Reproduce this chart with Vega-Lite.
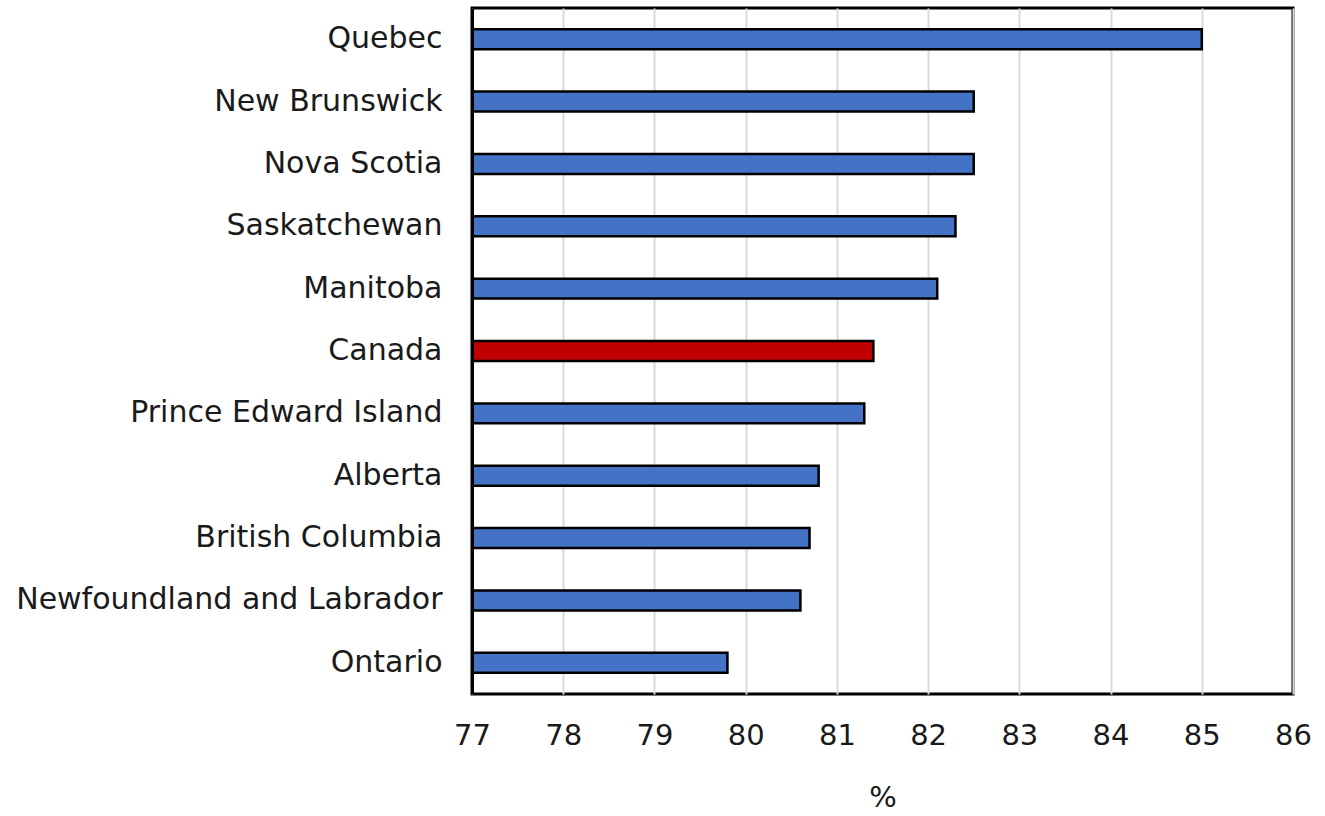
{
  "$schema": "https://vega.github.io/schema/vega-lite/v6.json",
  "autosize": {"type": "none"},
  "padding": {"left": 472, "top": 8, "right": 32, "bottom": 122},
  "width": 821,
  "height": 686,
  "background": "white",
  "config": {
    "view": {"stroke": "black", "strokeWidth": 3},
    "font": "DejaVu Sans"
  },
  "data": {
    "values": [
      {"region": "Quebec", "value": 85.0, "type": "province"},
      {"region": "New Brunswick", "value": 82.5, "type": "province"},
      {"region": "Nova Scotia", "value": 82.5, "type": "province"},
      {"region": "Saskatchewan", "value": 82.3, "type": "province"},
      {"region": "Manitoba", "value": 82.1, "type": "province"},
      {"region": "Canada", "value": 81.4, "type": "national"},
      {"region": "Prince Edward Island", "value": 81.3, "type": "province"},
      {"region": "Alberta", "value": 80.8, "type": "province"},
      {"region": "British Columbia", "value": 80.7, "type": "province"},
      {"region": "Newfoundland and Labrador", "value": 80.6, "type": "province"},
      {"region": "Ontario", "value": 79.8, "type": "province"}
    ]
  },
  "mark": {"type": "bar", "stroke": "black", "strokeWidth": 2.5, "clip": true},
  "encoding": {
    "y": {
      "field": "region",
      "type": "nominal",
      "sort": null,
      "scale": {"paddingInner": 0.68, "paddingOuter": 0.34},
      "axis": {
        "title": null,
        "ticks": false,
        "domain": true,
        "domainColor": "black",
        "domainWidth": 3,
        "zindex": 1,
        "labelFontSize": 30,
        "labelColor": "#1a1a1a",
        "labelPadding": 30,
        "labelLimit": 600
      }
    },
    "x": {
      "field": "value",
      "type": "quantitative",
      "scale": {"domain": [77, 86], "zero": false, "nice": false},
      "axis": {
        "title": "%",
        "titleFontSize": 29,
        "titleFontWeight": "normal",
        "titleColor": "#1a1a1a",
        "titlePadding": 33,
        "values": [77, 78, 79, 80, 81, 82, 83, 84, 85, 86],
        "ticks": false,
        "domain": false,
        "labelFontSize": 29,
        "labelFlush": false,
        "labelColor": "#1a1a1a",
        "labelPadding": 27,
        "grid": true,
        "gridColor": "#d9d9d9",
        "gridWidth": 2
      }
    },
    "fill": {
      "field": "type",
      "type": "nominal",
      "scale": {"domain": ["province", "national"], "range": ["#4472C4", "#C00000"]},
      "legend": null
    }
  }
}
